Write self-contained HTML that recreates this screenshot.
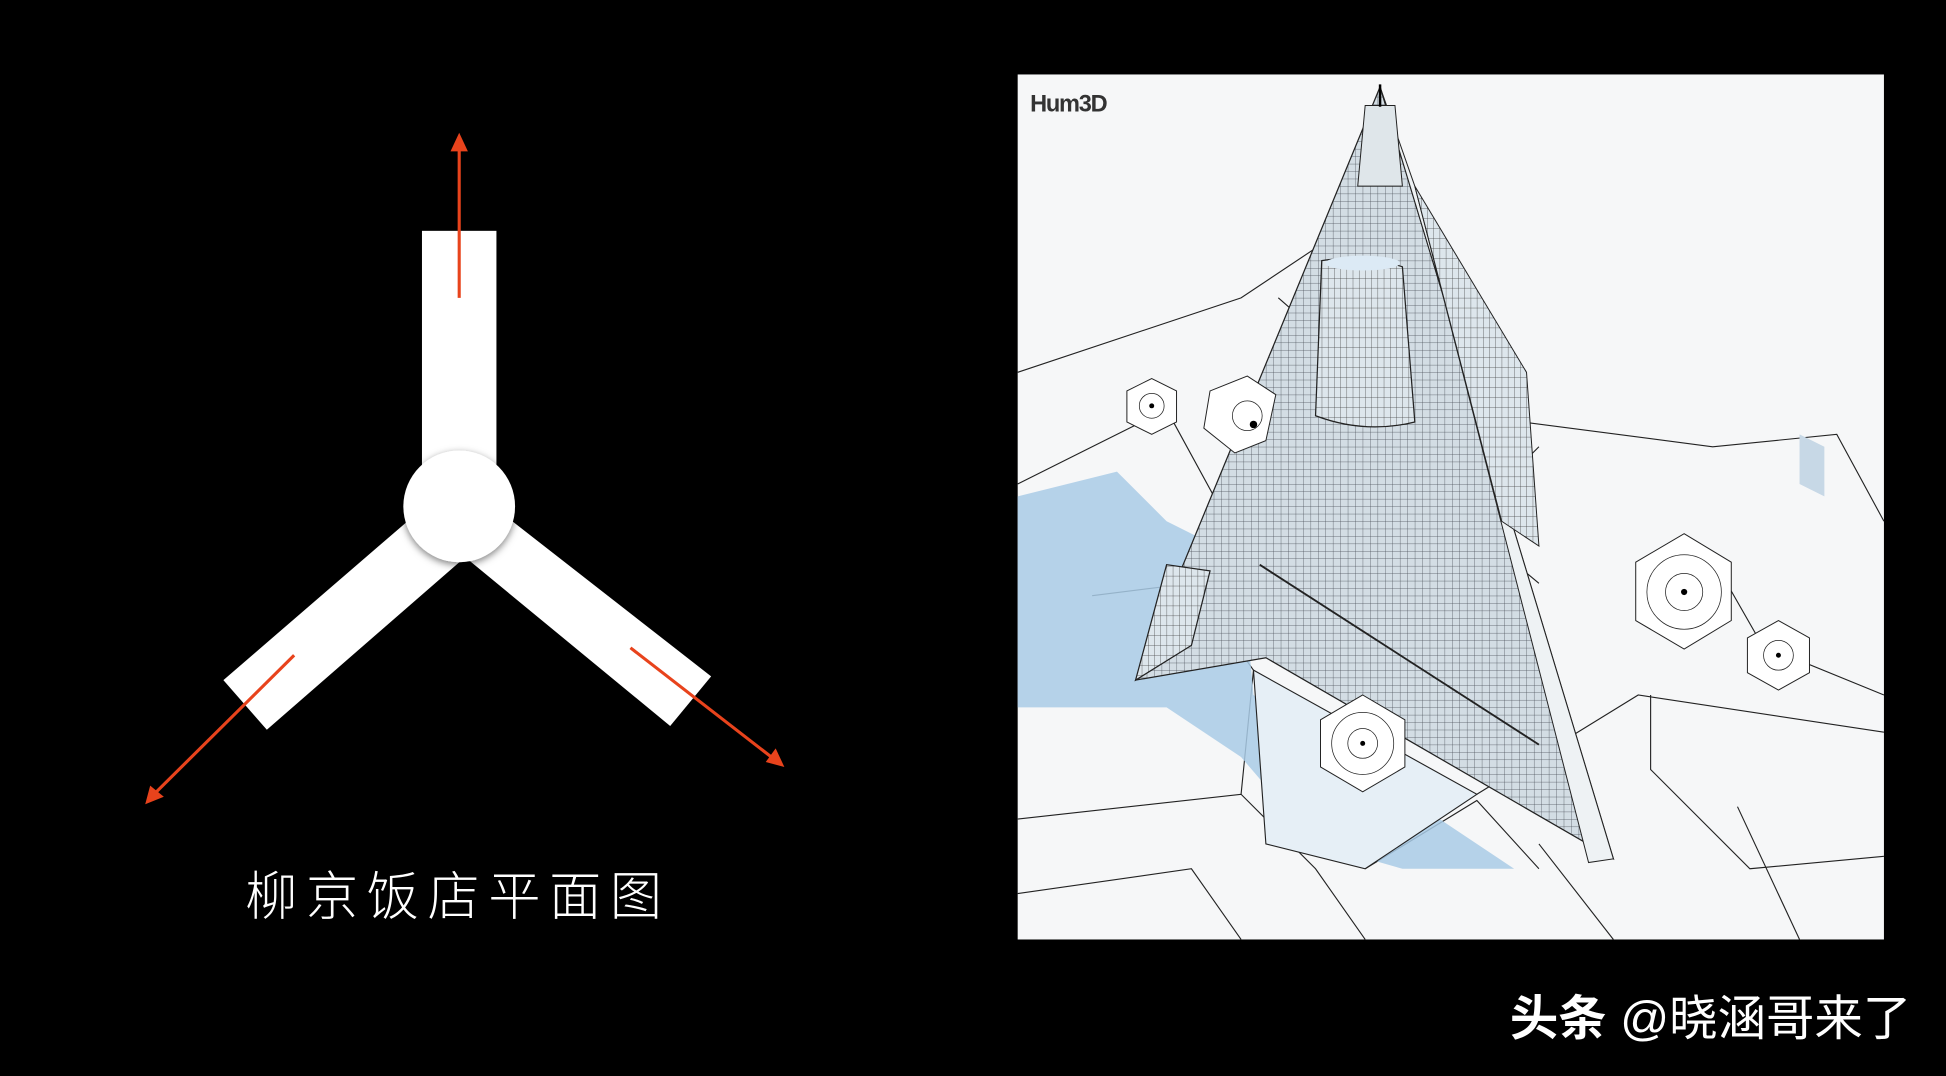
<!DOCTYPE html>
<html><head><meta charset="utf-8"><style>
html,body{margin:0;padding:0;background:#000;width:1946px;height:1076px;overflow:hidden}
svg{display:block}
</style></head><body>
<svg width="1946" height="1076" viewBox="0 0 1568 867" xmlns="http://www.w3.org/2000/svg">
<defs>
<pattern id="g" width="6" height="6" patternUnits="userSpaceOnUse"><rect width="6" height="6" fill="#d3dde4"/><path d="M0 0H6M0 0V6" stroke="#4a5058" stroke-width="0.6"/></pattern>
<pattern id="g2" width="5" height="8" patternUnits="userSpaceOnUse"><rect width="5" height="8" fill="#dde6ec"/><path d="M0 0H5M0 0V8" stroke="#444" stroke-width="0.6"/></pattern>
<filter id="sh"><feDropShadow dx="0" dy="2" stdDeviation="3" flood-color="#000" flood-opacity="0.5"/></filter>
<marker id="ah" markerWidth="8" markerHeight="8" refX="6" refY="4" orient="auto" markerUnits="userSpaceOnUse"><path d="M0 0L8 4L0 8Z" fill="#e8431c"/></marker>
</defs>
<rect width="1568" height="867" fill="#000"/>
<rect x="340" y="186" width="60" height="200" fill="#fff"/>
<polygon points="180,548 215,588 385,440 340,410" fill="#fff"/>
<polygon points="573,545 540,585 370,445 400,410" fill="#fff"/>
<circle cx="370" cy="408" r="45" fill="#fff" filter="url(#sh)"/>
<g stroke="#e8431c" stroke-width="2.5" fill="none">
<line x1="370" y1="240" x2="370" y2="112" marker-end="url(#ah)"/>
<line x1="237" y1="528" x2="121" y2="643" marker-end="url(#ah)"/>
<line x1="508" y1="522" x2="628" y2="615" marker-end="url(#ah)"/>
</g>
<polygon points="370,107 363,122 377,122" fill="#e8431c"/>
<polygon points="117,648 121,633 132,642" fill="#e8431c"/>
<polygon points="632,618 617,614 625,603" fill="#e8431c"/>
<text x="369" y="737" text-anchor="middle" fill="#fff" font-size="42" letter-spacing="7" font-family="'Liberation Sans','Noto Sans CJK SC',sans-serif" font-weight="300">柳京饭店平面图</text>
<rect x="820" y="60" width="698" height="697" fill="#f6f7f8"/>
<g stroke="#222" stroke-width="0.9" fill="none">
<polyline points="820,300 1000,240 1060,200"/>
<polyline points="820,390 880,360 940,330 1000,440"/>
<polyline points="1030,240 1110,310"/>
<polyline points="1150,330 1380,360 1480,350 1518,420"/>
<polyline points="1240,360 1180,420 1240,470"/>
<polyline points="1380,450 1420,520 1518,560"/>
<polyline points="820,660 1000,640 1060,700 1100,757"/>
<polyline points="1190,640 1320,560 1518,590"/>
<polyline points="1240,680 1300,757"/>
<polyline points="1400,650 1450,757"/>
<polyline points="820,720 960,700 1000,757"/>
<polyline points="880,480 960,470 1010,540 1000,640"/>
<polyline points="1330,560 1330,620 1410,700 1518,690"/>
<polyline points="1100,700 1190,645 1240,700"/>
</g>
<polygon points="820,400 900,380 940,420 1000,450 1010,560 1220,700 1130,700 1060,680 1000,610 940,570 820,570" fill="#a9cbe6" opacity="0.85"/>
<polygon points="1450,350 1470,360 1470,400 1450,390" fill="#c7d8e6"/>
<polygon points="1010,540 1190,640 1100,700 1020,680" fill="#e6eff6" stroke="#222" stroke-width="0.9"/>
<polygon points="1112,70 915,548 1020,530 1300,692" fill="url(#g)" stroke="#222" stroke-width="1"/>
<polygon points="1112,70 1300,692 1280,695 1140,150" fill="#eef2f4" stroke="#222" stroke-width="0.8"/>
<polygon points="1140,150 1230,300 1240,440 1210,420" fill="url(#g2)" stroke="#222" stroke-width="0.8"/>
<path d="M1065,210 Q1100,205 1130,215 L1140,340 Q1100,350 1060,335 Z" fill="url(#g2)" stroke="#222" stroke-width="1"/>
<ellipse cx="1098" cy="212" rx="30" ry="6" fill="#dceaf5"/>
<path d="M1100,85 L1124,85 L1130,150 L1094,150 Z" fill="#dfe6ea" stroke="#222" stroke-width="0.8"/>
<line x1="1112" y1="68" x2="1112" y2="86" stroke="#000" stroke-width="2"/>
<polygon points="915,548 940,455 975,460 960,520" fill="url(#g2)" stroke="#222"/>
<line x1="1015" y1="455" x2="1240" y2="600" stroke="#222" stroke-width="1.5"/>
<g fill="#fff" stroke="#222" stroke-width="0.8">
<polygon points="928,305 948,315 948,340 928,350 908,340 908,315"/>
<polygon points="1005,303 1028,318 1020,355 995,365 970,345 975,315"/>
<polygon points="1357,430 1395,453 1395,500 1357,523 1318,500 1318,453"/>
<polygon points="1433,500 1458,514 1458,542 1433,556 1408,542 1408,514"/>
<polygon points="1098,560 1132,580 1132,618 1098,638 1064,618 1064,580"/>
</g>
<g stroke="#222" stroke-width="0.6" fill="none">
<circle cx="928" cy="327" r="10"/><circle cx="1005" cy="335" r="12"/><circle cx="1357" cy="477" r="15"/><circle cx="1357" cy="477" r="30"/><circle cx="1433" cy="528" r="12"/><circle cx="1098" cy="599" r="12"/><circle cx="1098" cy="599" r="25"/>
</g>
<g fill="#000"><circle cx="928" cy="327" r="2"/><circle cx="1010" cy="342" r="3"/><circle cx="1357" cy="477" r="2.5"/><circle cx="1433" cy="528" r="2"/><circle cx="1098" cy="599" r="2"/></g>
<text x="830" y="90" fill="#333" font-size="19" font-weight="bold" font-family="'Liberation Sans',sans-serif" letter-spacing="-1">Hum3D</text>
<text x="1540" y="834" text-anchor="end" fill="#fff" font-size="39" font-family="'Liberation Sans','Noto Sans CJK SC',sans-serif"><tspan font-weight="bold">头条</tspan> @晓涵哥来了</text>
</svg>
</body></html>
